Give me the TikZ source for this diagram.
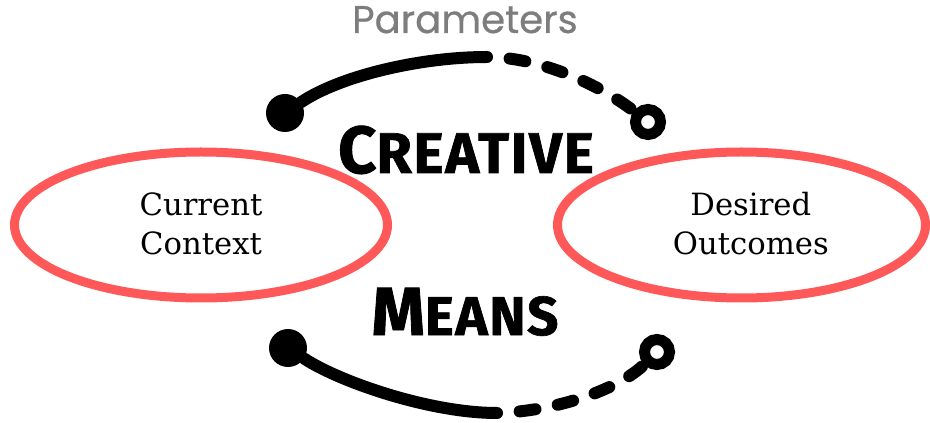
\documentclass[tikz,border=0pt]{standalone}
\usepackage{fontspec}
\usetikzlibrary{shapes.geometric}
\newfontfamily\paramfont{Poppins}[FakeBold=0.6]
\newfontfamily\headfont{Fira Sans}[LetterSpace=3, BoldFeatures={FakeBold=1.2}]
\newfontfamily\ovalfont{DejaVu Serif}
\definecolor{ovalred}{RGB}{255,88,88}
\definecolor{paramgrey}{RGB}{125,125,125}

\begin{document}
\begin{tikzpicture}[x=0.75pt,y=0.75pt,yscale=-1,xscale=1,
	oval/.style={draw=ovalred, line width=6.75pt, ellipse, minimum height=109.5pt, inner sep=0pt},
	ovaltext/.style={font=\ovalfont\fontsize{23}{29}\selectfont, align=center},
	startdot/.style={circle, fill=black, minimum size=28.5pt, inner sep=0pt},
	endring/.style={circle, draw=black, line width=8.25pt, minimum size=18.75pt, inner sep=0pt},
	solidarc/.style={line width=9pt, line cap=round},
	dashedarc/.style={line width=9pt, line cap=round, dash pattern=on 12pt off 17pt, dash phase=12pt},
	bigword/.style={font=\headfont\bfseries, anchor=base, inner sep=0pt}
	]
	\useasboundingbox (0,0) rectangle (930,423);
	
	% the two ovals
	\node [oval, minimum width=279.75pt] (ctx) at (201,225) {};
	\node [oval, minimum width=276pt] (out) at (741.5,225) {};
	\node [ovaltext] (ctxtext) at ([yshift=-1pt]ctx.center) {Current\\Context};
	\node [ovaltext] (outtext) at ([xshift=7pt,yshift=-1pt]out.center) {Desired\\Outcomes};
	
	% words
	\node [font=\paramfont\fontsize{29}{29}\selectfont, text=paramgrey, anchor=base, inner sep=0pt] (param) at (465,33) {Parameters};
	\node [bigword] (creative) at (466,173) {{\fontsize{50}{50}\selectfont C}{\fontsize{43}{43}\selectfont REATIVE}};
	\node [bigword] (means) at (465,335) {{\fontsize{51}{51}\selectfont M}{\fontsize{41}{41}\selectfont EANS}};
	
	% top arc
	\node [startdot] (topdot) at (285,113) {};
	\node [endring] (topring) at (648,122) {};
	\coordinate (topmid) at (487,57);
	\draw [solidarc] (topdot) .. controls (340,76) and (420,57) .. (topmid);
	\draw [dashedarc] (topmid) .. controls (540,57) and (600,85) .. (topring);
	
	% bottom arc
	\node [startdot] (botdot) at (288,348) {};
	\node [endring] (botring) at (657,352) {};
	\coordinate (botmid) at (497,413);
	\draw [solidarc] (botdot) .. controls (340,382) and (430,413) .. (botmid);
	\draw [dashedarc] (botmid) .. controls (560,411) and (620,388) .. (botring);
	
\end{tikzpicture}
\end{document}
